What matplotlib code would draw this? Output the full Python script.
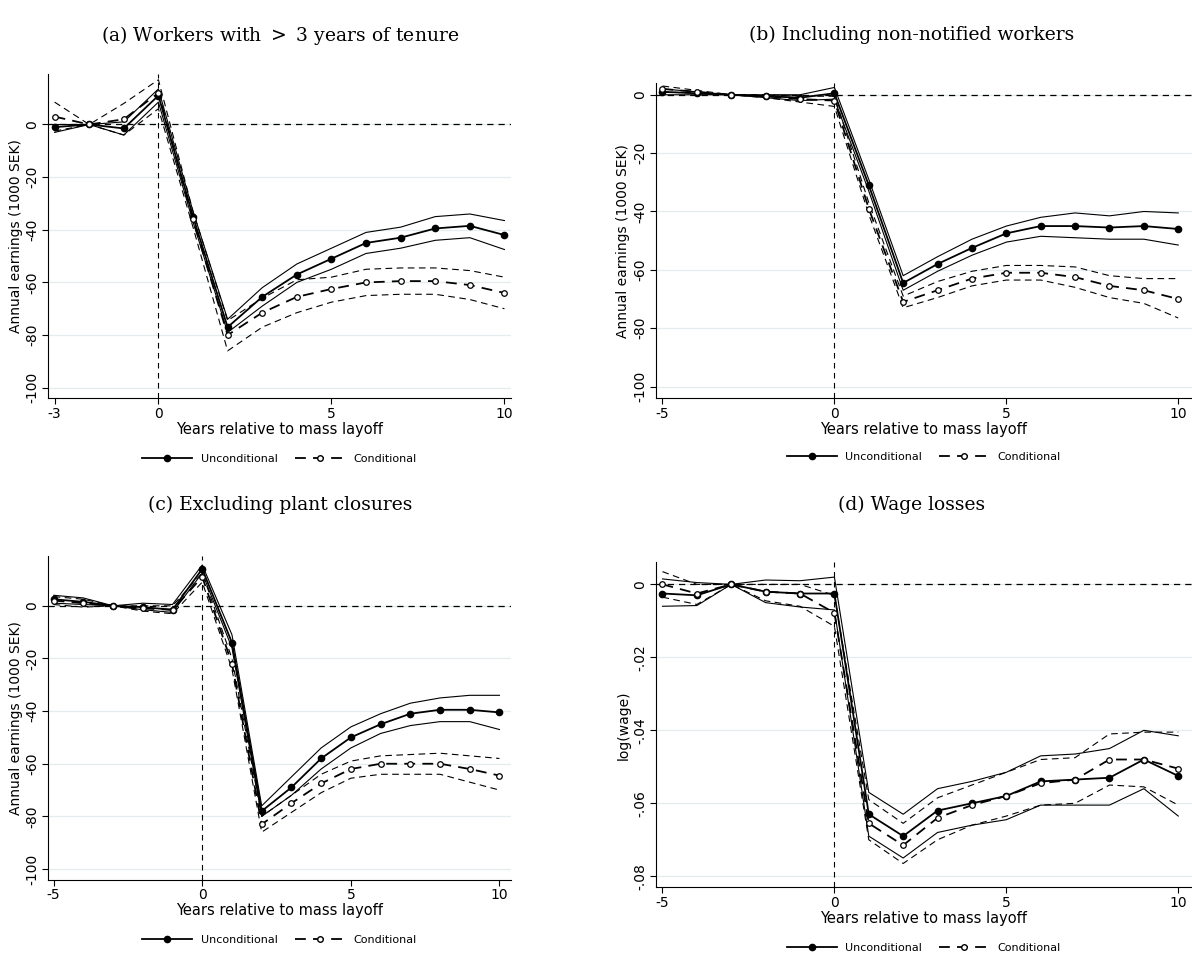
import matplotlib
matplotlib.use("agg")
import matplotlib.pyplot as plt
from matplotlib.lines import Line2D

# ---------------------------------------------------------------------------
# Data
# ---------------------------------------------------------------------------
YEARS_A = list(range(-3, 11))
YEARS = list(range(-5, 11))

A_U = [-1, 0, -1.5, 11, -35, -77, -65.5, -57, -51, -45, -43, -39.5, -38.5, -42]
A_U_HI = [0, 0, 1, 13.5, -33, -74, -62, -53, -47, -41, -39, -35, -34, -36.5]
A_U_LO = [-3, 0, -4, 8.5, -37, -79, -69, -60, -55, -49, -47, -44, -43, -47.5]
A_C = [3, 0, 2, 12, -36, -80, -71.5, -65.5, -62.5, -60, -59.5, -59.5, -61, -64]
A_C_HI = [8.5, 0, 8, 17, -33, -74.5, -66, -59, -58, -55, -54.5, -54.5, -55.5, -58]
A_C_LO = [-2.5, 0, -4, 6, -39, -86, -77, -71.5, -67.5, -65, -64.5, -64.5, -66.5, -70]

B_U = [1, 0.5, 0, -0.5, -1, 0.5, -31, -64.5, -58, -52.5, -47.5, -45, -45, -45.5, -45, -46]
B_U_HI = [2, 1, 0, 0, 0, 2.5, -29, -62, -55.5, -49.5, -45, -42, -40.5, -41.5, -40, -40.5]
B_U_LO = [0, 0, 0, -1, -2, -1.5, -33, -67, -60.5, -55, -50.5, -48.5, -49, -49.5, -49.5, -51.5]
B_C = [2, 1, 0, -0.5, -1.5, -2, -39, -71, -67, -63, -61, -61, -62.5, -65.5, -67, -70]
B_C_HI = [3, 1.5, 0, 0, -0.5, -0.5, -37, -69, -64, -60.5, -58.5, -58.5, -59, -62, -63, -63]
B_C_LO = [1, 0.5, 0, -1, -2.5, -4, -41, -73, -69.5, -65.5, -63.5, -63.5, -66, -69.5, -71.5, -76.5]

C_U = [2.5, 1.5, 0, -0.5, -1.5, 14, -14, -78, -69, -58, -50, -45, -41, -39.5, -39.5, -40.5]
C_U_HI = [4, 3, 0, 1, 0.5, 15.5, -11, -76, -65, -54, -46, -41, -37, -35, -34, -34]
C_U_LO = [1, 0.5, 0, -1.5, -2.5, 12.5, -16, -80, -72, -62, -54, -48.5, -45.5, -44, -44, -47]
C_C = [2, 1, 0, -1, -1.5, 11, -22, -83, -75, -67.5, -62, -60, -60, -60, -62, -64.5]
C_C_HI = [3.5, 2.5, 0, 0, 0, 12.5, -20, -80, -72, -64, -59, -57, -56.5, -56, -57, -58]
C_C_LO = [0.5, -0.5, 0, -2, -3, 9, -24, -86, -78.5, -71, -65.5, -64, -64, -64, -67, -70]

D_U = [-.0025, -.003, 0, -.002, -.0025, -.0025, -.063, -.069, -.062, -.060, -.058, -.054, -.0535, -.053, -.048, -.0525]
D_U_HI = [.0015, .0005, 0, .0012, .001, .002, -.057, -.063, -.056, -.054, -.0515, -.047, -.0465, -.045, -.040, -.0415]
D_U_LO = [-.006, -.0058, 0, -.005, -.0062, -.007, -.069, -.075, -.068, -.066, -.0645, -.0605, -.0605, -.0605, -.056, -.0635]
D_C = [0, -.0025, 0, -.002, -.0025, -.0078, -.0655, -.0715, -.064, -.0605, -.058, -.0545, -.0535, -.048, -.048, -.0505]
D_C_HI = [.0035, 0, 0, 0, 0, -.003, -.059, -.0655, -.0585, -.055, -.0515, -.048, -.0475, -.041, -.0405, -.0405]
D_C_LO = [-.0035, -.0055, 0, -.0045, -.006, -.0115, -.07, -.0765, -.070, -.066, -.0635, -.0605, -.060, -.055, -.0555, -.0605]

EARN_TICKS = [-100, -80, -60, -40, -20, 0]
EARN_LABELS = ["-100", "-80", "-60", "-40", "-20", "0"]
WAGE_TICKS = [-0.08, -0.06, -0.04, -0.02, 0]
WAGE_LABELS = ["-.08", "-.06", "-.04", "-.02", "0"]

PANELS = [
    dict(title="(a) Workers with $>$ 3 years of tenure", x=YEARS_A,
         u=(A_U, A_U_HI, A_U_LO), c=(A_C, A_C_HI, A_C_LO),
         xt=[-3, 0, 5, 10], yt=EARN_TICKS, yl=EARN_LABELS, ylim=(-104, 19),
         ylabel="Annual earnings (1000 SEK)", rect=[0.040, 0.583, 0.389, 0.339],
         tpos=(0.235, 0.963)),
    dict(title="(b) Including non-notified workers", x=YEARS,
         u=(B_U, B_U_HI, B_U_LO), c=(B_C, B_C_HI, B_C_LO),
         xt=[-5, 0, 5, 10], yt=EARN_TICKS, yl=EARN_LABELS, ylim=(-104, 4),
         ylabel="Annual earnings (1000 SEK)", rect=[0.550, 0.583, 0.450, 0.330],
         tpos=(0.765, 0.963)),
    dict(title="(c) Excluding plant closures", x=YEARS,
         u=(C_U, C_U_HI, C_U_LO), c=(C_C, C_C_HI, C_C_LO),
         xt=[-5, 0, 5, 10], yt=EARN_TICKS, yl=EARN_LABELS, ylim=(-104, 19),
         ylabel="Annual earnings (1000 SEK)", rect=[0.040, 0.079, 0.389, 0.339],
         tpos=(0.235, 0.471)),
    dict(title="(d) Wage losses", x=YEARS,
         u=(D_U, D_U_HI, D_U_LO), c=(D_C, D_C_HI, D_C_LO),
         xt=[-5, 0, 5, 10], yt=WAGE_TICKS, yl=WAGE_LABELS, ylim=(-0.083, 0.006),
         ylabel="log(wage)", rect=[0.550, 0.071, 0.450, 0.340],
         tpos=(0.765, 0.471)),
]

plt.rcParams["font.family"] = "DejaVu Sans"
fig = plt.figure(figsize=(11.92, 9.55), dpi=100)

for p in PANELS:
    ax = fig.add_axes(p["rect"])
    x = p["x"]
    for yv in p["yt"]:
        ax.axhline(yv, color="#e4ecef", lw=0.9, zorder=0)
    ax.axhline(0, color="black", lw=0.9, ls=(0, (5, 4)), zorder=1)
    ax.axvline(0, color="black", lw=0.8, ls=(0, (5, 4)), zorder=1)
    est, hi, lo = p["u"]
    ax.plot(x, hi, color="black", lw=0.8)
    ax.plot(x, lo, color="black", lw=0.8)
    ax.plot(x, est, color="black", lw=1.3, marker="o", ms=4.5)
    est, hi, lo = p["c"]
    ax.plot(x, hi, color="black", lw=0.8, ls=(0, (6, 4)))
    ax.plot(x, lo, color="black", lw=0.8, ls=(0, (6, 4)))
    ax.plot(x, est, color="black", lw=1.3, ls=(0, (6, 4)), marker="o", ms=4,
            mfc="white", mew=0.9)

    ax.set_xlim(x[0] - 0.2, 10.2 if x[0] == -3 else 10.4)
    ax.set_ylim(*p["ylim"])
    ax.set_xticks(p["xt"])
    ax.set_xticklabels([str(v) for v in p["xt"]], fontsize=10)
    ax.set_yticks(p["yt"])
    ax.set_yticklabels(p["yl"], fontsize=10, rotation=90, va="center")
    ax.set_xlabel("Years relative to mass layoff", fontsize=10.5, labelpad=1)
    ax.set_ylabel(p["ylabel"], fontsize=10, labelpad=2)
    ax.spines["top"].set_visible(False)
    ax.spines["right"].set_visible(False)
    ax.tick_params(length=4, width=0.8, pad=2)
    fig.text(p["tpos"][0], p["tpos"][1], p["title"], family="DejaVu Serif",
             fontsize=13.5, ha="center", va="center")

    handles = [
        Line2D([], [], color="black", lw=1.3, marker="o", ms=4.5),
        Line2D([], [], color="black", lw=1.3, ls=(0, (6, 4)), marker="o", ms=4,
               mfc="white"),
    ]
    ax.legend(handles, ["Unconditional", "Conditional"], loc="upper center",
              bbox_to_anchor=(0.5, -0.14), ncol=2, frameon=False, fontsize=8,
              handlelength=4.5, columnspacing=1.5)

fig.savefig("out.png", dpi=100)
